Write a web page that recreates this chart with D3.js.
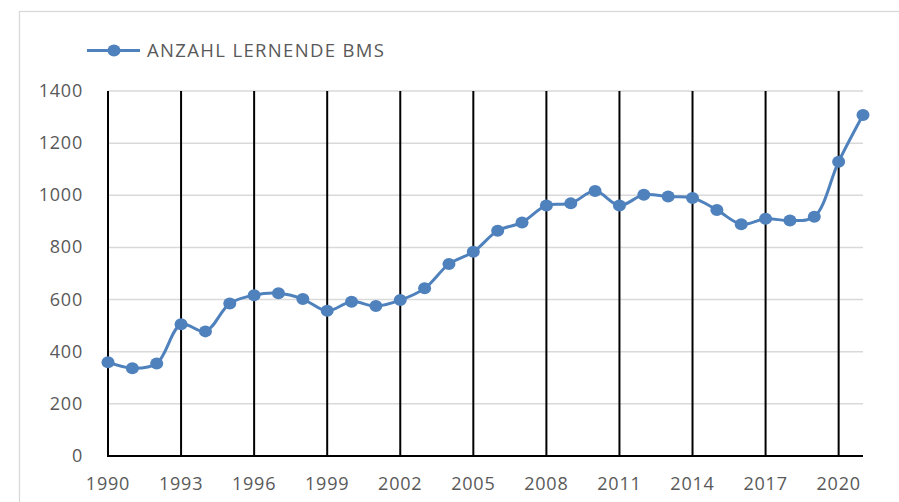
<!DOCTYPE html>
<html>
<head>
<meta charset="utf-8">
<script src="https://cdn.jsdelivr.net/npm/d3@7"></script>
<style>
  body { margin: 0; background: #fff; }
  text { font-family: "Open Sans", sans-serif; fill: #595959; }
</style>
</head>
<body>
<div id="chart"></div>
<script>
const width = 899;
const height = 502;

const years = d3.range(1990, 2022);
const lernende = [360, 337, 355, 505, 478, 585, 617, 624, 602, 557, 592, 575, 598, 643, 736, 783,
  864, 896, 961, 969, 1016, 961, 1002, 995, 990, 944, 889, 910, 903, 918, 1129, 1308];
const yTicks = [0, 200, 400, 600, 800, 1000, 1200, 1400];
const xLabelYears = [1990, 1993, 1996, 1999, 2002, 2005, 2008, 2011, 2014, 2017, 2020];
const seriesName = "ANZAHL LERNENDE BMS";

const data = years.map((y, i) => ({ year: y, value: lernende[i] }));

const svg = d3.select("#chart").append("svg").attr("width", width).attr("height", height);

// chart frame
svg.append("rect")
  .attr("x", 19.5).attr("y", 11.5)
  .attr("width", width + 10).attr("height", height + 10)
  .attr("fill", "none").attr("stroke", "#d9d9d9").attr("stroke-width", 1.3);

const x = d3.scaleLinear().domain([1990, 2021]).range([108, 863]);
const y = d3.scaleLinear().domain([0, 1400]).range([456, 91]);

// horizontal gridlines
svg.append("g")
  .selectAll("line")
  .data(yTicks.filter((d) => d > 0))
  .join("line")
  .attr("x1", x(1990)).attr("x2", x(2021))
  .attr("y1", (d) => y(d)).attr("y2", (d) => y(d))
  .attr("stroke", "#d9d9d9").attr("stroke-width", 1.5);

// vertical lines every 3 years
svg.append("g")
  .selectAll("line")
  .data(xLabelYears)
  .join("line")
  .attr("x1", (d) => x(d)).attr("x2", (d) => x(d))
  .attr("y1", y(1400)).attr("y2", y(0))
  .attr("stroke", "#000").attr("stroke-width", 2);

// bottom axis
svg.append("line")
  .attr("x1", x(1990) - 1).attr("x2", x(2021))
  .attr("y1", y(0)).attr("y2", y(0))
  .attr("stroke", "#000").attr("stroke-width", 2);

// y labels
svg.append("g")
  .selectAll("text")
  .data(yTicks)
  .join("text")
  .attr("x", 83)
  .attr("y", (d) => y(d) + 6)
  .attr("text-anchor", "end")
  .style("font-size", "18px")
  .style("letter-spacing", "0.8px")
  .text((d) => d);

// x labels
svg.append("g")
  .selectAll("text")
  .data(xLabelYears)
  .join("text")
  .attr("x", (d) => x(d))
  .attr("y", 490)
  .attr("text-anchor", "middle")
  .style("font-size", "18px")
  .style("letter-spacing", "0.8px")
  .text((d) => d);

// series
const line = d3.line()
  .x((d) => x(d.year))
  .y((d) => y(d.value))
  .curve(d3.curveCatmullRom.alpha(0.5));

svg.append("path")
  .datum(data)
  .attr("d", line)
  .attr("fill", "none")
  .attr("stroke", "#4f81bd")
  .attr("stroke-width", 3);

svg.append("g")
  .selectAll("ellipse")
  .data(data)
  .join("ellipse")
  .attr("cx", (d) => x(d.year))
  .attr("cy", (d) => y(d.value))
  .attr("rx", 6.5).attr("ry", 6)
  .attr("fill", "#4f81bd");

// legend
const legend = svg.append("g");
legend.append("line")
  .attr("x1", 87).attr("x2", 140)
  .attr("y1", 50.5).attr("y2", 50.5)
  .attr("stroke", "#4f81bd").attr("stroke-width", 3);
legend.append("ellipse")
  .attr("cx", 114).attr("cy", 50.5)
  .attr("rx", 6.5).attr("ry", 6)
  .attr("fill", "#4f81bd");
legend.append("text")
  .attr("x", 147).attr("y", 57)
  .style("font-size", "18.5px")
  .attr("textLength", 237)
  .text(seriesName);
</script>
</body>
</html>
